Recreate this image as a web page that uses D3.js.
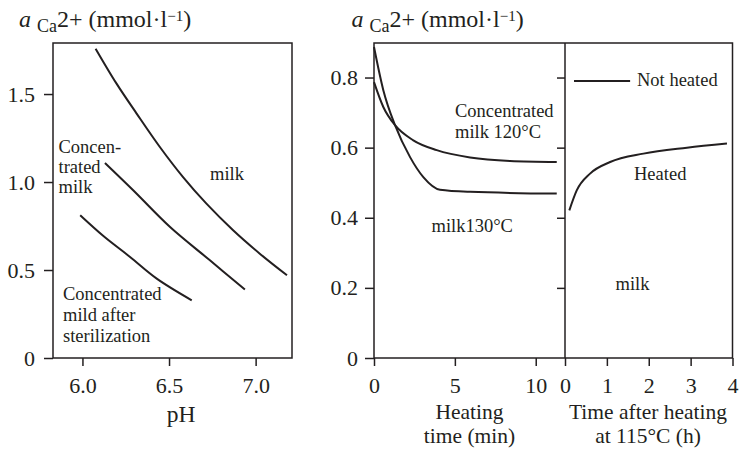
<!DOCTYPE html>
<html>
<head>
<meta charset="utf-8">
<script src="https://cdn.jsdelivr.net/npm/d3@7"></script>
<style>
  html, body { margin: 0; padding: 0; background: #fff; }
  svg { display: block; }
  text { font-family: "Liberation Serif", "Times New Roman", serif; fill: #231f20; }
</style>
</head>
<body>
<svg id="chart" width="742" height="456"></svg>
<script>
// ---------- Data ----------
// Left panel: calcium ion activity vs pH
const phMilk  = [6.076, 6.197, 6.313, 6.447, 6.581, 6.716, 6.870, 7.024, 7.181];
const aMilk   = [1.758, 1.559, 1.389, 1.199, 1.028, 0.877, 0.726, 0.593, 0.470];
const phConc  = [6.130, 6.293, 6.506, 6.736, 6.938];
const aConc   = [1.108, 0.953, 0.744, 0.555, 0.389];
const phSter  = [5.987, 6.121, 6.275, 6.429, 6.631];
const aSter   = [0.811, 0.693, 0.574, 0.451, 0.328];

// Right panel (a): heating time (min)
const tHeat130 = [0, 0.576, 1.30, 2.23, 3.05, 4.08, 5.94, 11.30];
const aHeat130 = [0.887, 0.764, 0.664, 0.573, 0.516, 0.480, 0.474, 0.469];
const tHeat120 = [0, 0.576, 1.30, 2.43, 3.88, 5.94, 8.41, 11.30];
const aHeat120 = [0.787, 0.716, 0.664, 0.621, 0.593, 0.572, 0.562, 0.559];

// Right panel (b): time after heating at 115°C (h)
const tHeated = [0.103, 0.280, 0.598, 1.077, 1.873, 2.911, 3.868];
const aHeated = [0.421, 0.478, 0.526, 0.559, 0.583, 0.600, 0.612];
const tNotHeated = [0.215, 1.555];
const aNotHeated = [0.790, 0.790];

// Ticks
const phTicks = [6.0, 6.5, 7.0];
const aLeftTicks = [0, 0.5, 1.0, 1.5];
const aRightTicks = [0, 0.2, 0.4, 0.6, 0.8];
const heatTicks = [0, 5, 10];
const afterTicks = [0, 1, 2, 3, 4];

// ---------- Layout ----------
const svg = d3.select("#chart");
const L = {x0: 53, x1: 292, y0: 43, y1: 358};
const R = {x0: 374, xm: 565, x1: 732.5, y0: 43, y1: 358};
const ink = "#231f20";

const xPH = d3.scaleLinear().domain([5.83, 7.21]).range([L.x0, L.x1]);
const yL  = d3.scaleLinear().domain([0, 1.79]).range([L.y1, L.y0]);
const xHt = d3.scaleLinear().domain([0, 11.81]).range([R.x0, R.xm]);
const xAf = d3.scaleLinear().domain([0, 4]).range([R.xm, R.x1]);
const yR  = d3.scaleLinear().domain([0, 0.8985]).range([R.y1, R.y0]);

function styleAxis(g, fs) {
  g.attr("font-family", null);
  g.select(".domain").remove();
  g.selectAll(".tick line").attr("stroke", ink).attr("stroke-width", 1.5);
  g.selectAll(".tick text").attr("font-size", fs).attr("fill", ink);
}
const fmt = d => d === 0 ? "0" : d3.format(".1f")(d);

// Left axes
svg.append("g").attr("transform", `translate(${L.x0},0)`)
  .call(d3.axisLeft(yL).tickValues(aLeftTicks).tickFormat(fmt).tickSize(9).tickPadding(9))
  .call(g => styleAxis(g, 22));
svg.append("g").attr("transform", `translate(0,${L.y1})`)
  .call(d3.axisBottom(xPH).tickValues(phTicks).tickFormat(d3.format(".1f")).tickSize(8).tickPadding(11))
  .call(g => styleAxis(g, 22));

// Right axes
svg.append("g").attr("transform", `translate(${R.x0},0)`)
  .call(d3.axisLeft(yR).tickValues(aRightTicks).tickFormat(fmt).tickSize(9).tickPadding(7))
  .call(g => styleAxis(g, 22));
svg.append("g").attr("transform", `translate(${R.xm},0)`)
  .call(d3.axisLeft(yR).tickValues(aRightTicks.filter(d => d > 0)).tickFormat("").tickSize(8))
  .call(g => styleAxis(g, 22));
svg.append("g").attr("transform", `translate(0,${R.y1})`)
  .call(d3.axisBottom(xHt).tickValues(heatTicks).tickFormat(d3.format("d")).tickSize(8).tickPadding(11))
  .call(g => styleAxis(g, 22));
svg.append("g").attr("transform", `translate(0,${R.y1})`)
  .call(d3.axisBottom(xAf).tickValues(afterTicks).tickFormat(d3.format("d")).tickSize(8).tickPadding(11))
  .call(g => styleAxis(g, 22));

// Frames
svg.append("rect").attr("x", L.x0).attr("y", L.y0).attr("width", L.x1 - L.x0).attr("height", L.y1 - L.y0)
  .attr("fill", "none").attr("stroke", ink).attr("stroke-width", 1.5);
svg.append("rect").attr("x", R.x0).attr("y", R.y0).attr("width", R.x1 - R.x0).attr("height", R.y1 - R.y0)
  .attr("fill", "none").attr("stroke", ink).attr("stroke-width", 1.5);
svg.append("line").attr("x1", R.xm).attr("x2", R.xm).attr("y1", R.y0).attr("y2", R.y1)
  .attr("stroke", ink).attr("stroke-width", 1.5);

// Curves
function drawCurve(xs, ys, xScale, yScale, curve) {
  const pts = xs.map((x, i) => [x, ys[i]]);
  const line = d3.line().x(d => xScale(d[0])).y(d => yScale(d[1])).curve(curve || d3.curveMonotoneX);
  svg.append("path").attr("d", line(pts)).attr("fill", "none").attr("stroke", ink).attr("stroke-width", 2);
}
drawCurve(phMilk, aMilk, xPH, yL, d3.curveCatmullRom);
drawCurve(phConc, aConc, xPH, yL, d3.curveCatmullRom);
drawCurve(phSter, aSter, xPH, yL, d3.curveCatmullRom);
drawCurve(tHeat130, aHeat130, xHt, yR);
drawCurve(tHeat120, aHeat120, xHt, yR);
drawCurve(tHeated, aHeated, xAf, yR);
drawCurve(tNotHeated, aNotHeated, xAf, yR, d3.curveLinear);

// Annotations
function label(lines, x, y, step, fs) {
  const t = svg.append("text").attr("font-size", fs || 18.5);
  lines.forEach((s, i) => t.append("tspan").attr("x", x).attr("y", y + i * step).text(s));
}
label(["Concen-", "trated", "milk"], 58.5, 153, 20);
label(["milk"], 210, 180, 20);
label(["Concentrated", "mild after", "sterilization"], 63, 300, 21);
label(["Concentrated", "milk 120°C"], 455, 116.5, 21);
label(["milk130°C"], 431.5, 232, 20);
label(["Not heated"], 637, 86, 20);
label(["Heated"], 634, 180, 20);
label(["milk"], 615.5, 290, 20);

// Axis titles
function title(lines, cx, y, step, fs) {
  const t = svg.append("text").attr("font-size", fs).attr("text-anchor", "middle");
  lines.forEach((s, i) => t.append("tspan").attr("x", cx).attr("y", y + i * step).text(s));
}
title(["pH"], 181, 421.5, 0, 23.5);
title(["Heating", "time (min)"], 469.5, 419, 23.5, 21.5);
title(["Time after heating", "at 115°C (h)"], 648, 419, 23.5, 21.5);

// Y titles
function yTitle(x) {
  const t = svg.append("text").attr("x", x).attr("y", 27).attr("font-size", 24);
  t.append("tspan").attr("font-style", "italic").text("a");
  t.append("tspan").attr("font-size", 18).attr("dx", 6).attr("dy", 5).text("Ca");
  t.append("tspan").attr("dy", -5).text("2+ (mmol·l");
  t.append("tspan").attr("font-size", 15).attr("dy", -6).text("−1");
  t.append("tspan").attr("dy", 6).text(")");
}
yTitle(19);
yTitle(351.5);
</script>
</body>
</html>
